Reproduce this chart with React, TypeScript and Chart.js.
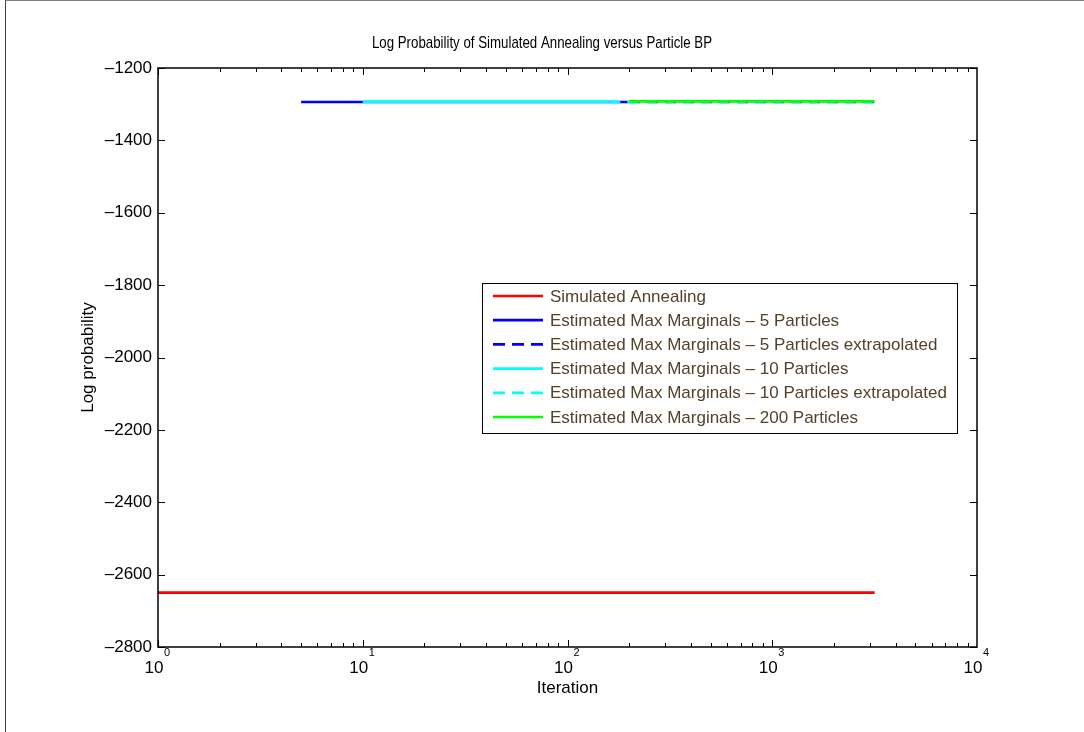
import React, { useEffect, useRef } from 'react';
import { Chart, registerables } from 'chart.js';

Chart.register(...registerables);

const FONT = "'Liberation Sans', Arial, Helvetica, sans-serif";

const TITLE = 'Log Probability of Simulated Annealing versus Particle BP';
const X_LABEL = 'Iteration';
const Y_LABEL = 'Log probability';

const X_TICKS = [1, 10, 100, 1000, 10000];
const X_TICK_BASE = '10';
const X_TICK_EXPONENTS = ['0', '1', '2', '3', '4'];
const Y_TICKS = [-2800, -2600, -2400, -2200, -2000, -1800, -1600, -1400, -1200];

const SERIES_LABELS = [
  'Simulated Annealing',
  'Estimated Max Marginals \u2013 5 Particles',
  'Estimated Max Marginals \u2013 5 Particles extrapolated',
  'Estimated Max Marginals \u2013 10 Particles',
  'Estimated Max Marginals \u2013 10 Particles extrapolated',
  'Estimated Max Marginals \u2013 200 Particles',
];

const saIter = [1, 3162];
const saLogProb = [-2650, -2650];
const p5Iter = [5, 200];
const p5LogProb = [-1294, -1294];
const p5ExtIter = [200, 3162];
const p5ExtLogProb = [-1294, -1294];
const p10Iter = [10, 160];
const p10LogProb = [-1293, -1293];
const p10ExtIter = [160, 3162];
const p10ExtLogProb = [-1293.5, -1293.5];
const p200Iter = [200, 3162];
const p200LogProb = [-1292.5, -1292.5];

const toPoints = (xs: number[], ys: number[]) => xs.map((x, i) => ({ x, y: ys[i] }));

const figureTitlePlugin = {
  id: 'figureTitle',
  afterDraw(chart: any) {
    const { ctx } = chart;
    ctx.save();
    ctx.font = `16.2px ${FONT}`;
    ctx.fillStyle = '#000';
    ctx.textAlign = 'center';
    ctx.textBaseline = 'middle';
    ctx.translate(chart.width / 2, 44);
    ctx.scale(0.82, 1);
    ctx.fillText(TITLE, 0, 0);
    ctx.restore();
  },
};

const axesBoxPlugin = {
  id: 'axesBox',
  afterDatasetsDraw(chart: any) {
    const { ctx, chartArea, scales } = chart;
    const { left, right, top, bottom } = chartArea;
    const x = scales.x;
    const y = scales.y;
    ctx.save();
    ctx.strokeStyle = '#000';
    ctx.lineWidth = 1;
    ctx.setLineDash([]);
    ctx.beginPath();
    for (let e = 0; e < 4; e++) {
      for (let m = 1; m <= 9; m++) {
        const v = m * Math.pow(10, e);
        const px = Math.round(x.getPixelForValue(v)) + 0.5;
        const len = m === 1 ? 7 : 4;
        ctx.moveTo(px, bottom);
        ctx.lineTo(px, bottom - len);
        ctx.moveTo(px, top);
        ctx.lineTo(px, top + len);
      }
    }
    Y_TICKS.forEach((v) => {
      const py = Math.round(y.getPixelForValue(v)) + 0.5;
      ctx.moveTo(left, py);
      ctx.lineTo(left + 7, py);
      ctx.moveTo(right, py);
      ctx.lineTo(right - 7, py);
    });
    ctx.stroke();
    ctx.lineWidth = 1.5;
    ctx.strokeRect(Math.round(left), Math.round(top), Math.round(right - left), Math.round(bottom - top));

    // x tick labels: base 10 with raised exponent
    X_TICKS.forEach((v, i) => {
      const px = x.getPixelForValue(v);
      ctx.font = `17px ${FONT}`;
      const wb = ctx.measureText(X_TICK_BASE).width;
      ctx.font = `11px ${FONT}`;
      const we = ctx.measureText(X_TICK_EXPONENTS[i]).width;
      const x0 = px - (wb + we) / 2 - 1;
      ctx.fillStyle = '#000';
      ctx.textAlign = 'left';
      ctx.textBaseline = 'alphabetic';
      ctx.font = `17px ${FONT}`;
      ctx.fillText(X_TICK_BASE, x0, bottom + 26);
      ctx.font = `11px ${FONT}`;
      ctx.fillText(X_TICK_EXPONENTS[i], x0 + wb + 0.5, bottom + 9);
    });
    ctx.restore();
  },
};

const insetLegendPlugin = {
  id: 'insetLegend',
  afterDraw(chart: any) {
    const { ctx } = chart;
    const bx = 482.5;
    const by = 283.5;
    const bw = 475;
    const bh = 150;
    ctx.save();
    ctx.fillStyle = '#fff';
    ctx.fillRect(bx, by, bw, bh);
    ctx.strokeStyle = '#000';
    ctx.lineWidth = 1;
    ctx.setLineDash([]);
    ctx.strokeRect(bx, by, bw, bh);
    ctx.font = `17px ${FONT}`;
    ctx.textBaseline = 'middle';
    ctx.textAlign = 'left';
    chart.data.datasets.forEach((ds: any, i: number) => {
      const yy = 296 + i * 24.2;
      ctx.beginPath();
      ctx.setLineDash(ds.legendDash || []);
      ctx.strokeStyle = ds.borderColor;
      ctx.lineWidth = ds.borderWidth;
      ctx.lineCap = 'butt';
      ctx.moveTo(493, yy);
      ctx.lineTo(543, yy);
      ctx.stroke();
      ctx.setLineDash([]);
      ctx.fillStyle = '#54412c';
      ctx.fillText(ds.label, 550, yy + 1);
    });
    ctx.restore();
  },
};

export default function App() {
  const canvasRef = useRef<HTMLCanvasElement | null>(null);

  useEffect(() => {
    if (!canvasRef.current) return;
    const lw = 2.7;
    const chart = new Chart(canvasRef.current, {
      type: 'line',
      data: {
        datasets: [
          { label: SERIES_LABELS[0], data: toPoints(saIter, saLogProb), borderColor: '#ff0000', borderWidth: lw, pointRadius: 0, order: 5 },
          { label: SERIES_LABELS[1], data: toPoints(p5Iter, p5LogProb), borderColor: '#0000ff', borderWidth: lw, pointRadius: 0, order: 4 },
          { label: SERIES_LABELS[2], data: toPoints(p5ExtIter, p5ExtLogProb), borderColor: '#0000ff', borderWidth: lw, pointRadius: 0, borderDash: [11, 7], legendDash: [12, 7], order: 3 },
          { label: SERIES_LABELS[3], data: toPoints(p10Iter, p10LogProb), borderColor: '#00ffff', borderWidth: lw, pointRadius: 0, order: 2 },
          { label: SERIES_LABELS[4], data: toPoints(p10ExtIter, p10ExtLogProb), borderColor: '#00ffff', borderWidth: lw, pointRadius: 0, borderDash: [11, 7], legendDash: [12, 7], order: 1 },
          { label: SERIES_LABELS[5], data: toPoints(p200Iter, p200LogProb), borderColor: '#00ff00', borderWidth: lw, pointRadius: 0, order: 0 },
        ] as any,
      },
      options: {
        responsive: false,
        animation: false,
        devicePixelRatio: 1,
        layout: { padding: { left: 0, right: 107, top: 68, bottom: 0 } },
        elements: { line: { borderCapStyle: 'butt', tension: 0 } },
        plugins: {
          legend: { display: false },
          tooltip: { enabled: false },
          title: { display: false },
        },
        scales: {
          x: {
            type: 'logarithmic',
            min: 1,
            max: 10000,
            grid: { display: false, drawTicks: false },
            border: { display: false },
            ticks: { display: false, autoSkip: false },
            afterBuildTicks: (s: any) => {
              s.ticks = X_TICKS.map((value) => ({ value }));
            },
            afterFit: (s: any) => {
              s.height = 85;
            },
            title: {
              display: true,
              text: X_LABEL,
              color: '#000',
              font: { family: FONT, size: 17 },
              padding: { top: 0, bottom: 33.8 },
            },
          },
          y: {
            type: 'linear',
            min: -2800,
            max: -1200,
            grid: { display: false, drawTicks: false },
            border: { display: false },
            ticks: {
              padding: 6,
              color: '#000',
              font: { family: FONT, size: 17 },
              callback: (v: any) => {
                const n = Number(v);
                return n < 0 ? '\u2013' + Math.abs(n) : String(n);
              },
            },
            afterBuildTicks: (s: any) => {
              s.ticks = Y_TICKS.map((value) => ({ value }));
            },
            afterFit: (s: any) => {
              s.width = 158;
            },
            title: {
              display: true,
              text: Y_LABEL,
              color: '#000',
              font: { family: FONT, size: 17 },
              padding: { top: 77.8, bottom: 0 },
            },
          },
        },
      } as any,
      plugins: [axesBoxPlugin, insetLegendPlugin, figureTitlePlugin],
    });
    return () => chart.destroy();
  }, []);

  return (
    <div style={{ position: 'absolute', left: 0, top: 0, width: 1084, height: 732, background: '#fff' }}>
      <canvas ref={canvasRef} width={1084} height={732} style={{ display: 'block' }} />
      <div
        style={{
          position: 'absolute',
          left: 5,
          top: 0,
          width: 1079,
          height: 732,
          boxSizing: 'border-box',
          borderTop: '1px solid #808080',
          borderLeft: '1px solid #404040',
          pointerEvents: 'none',
        }}
      />
    </div>
  );
}
